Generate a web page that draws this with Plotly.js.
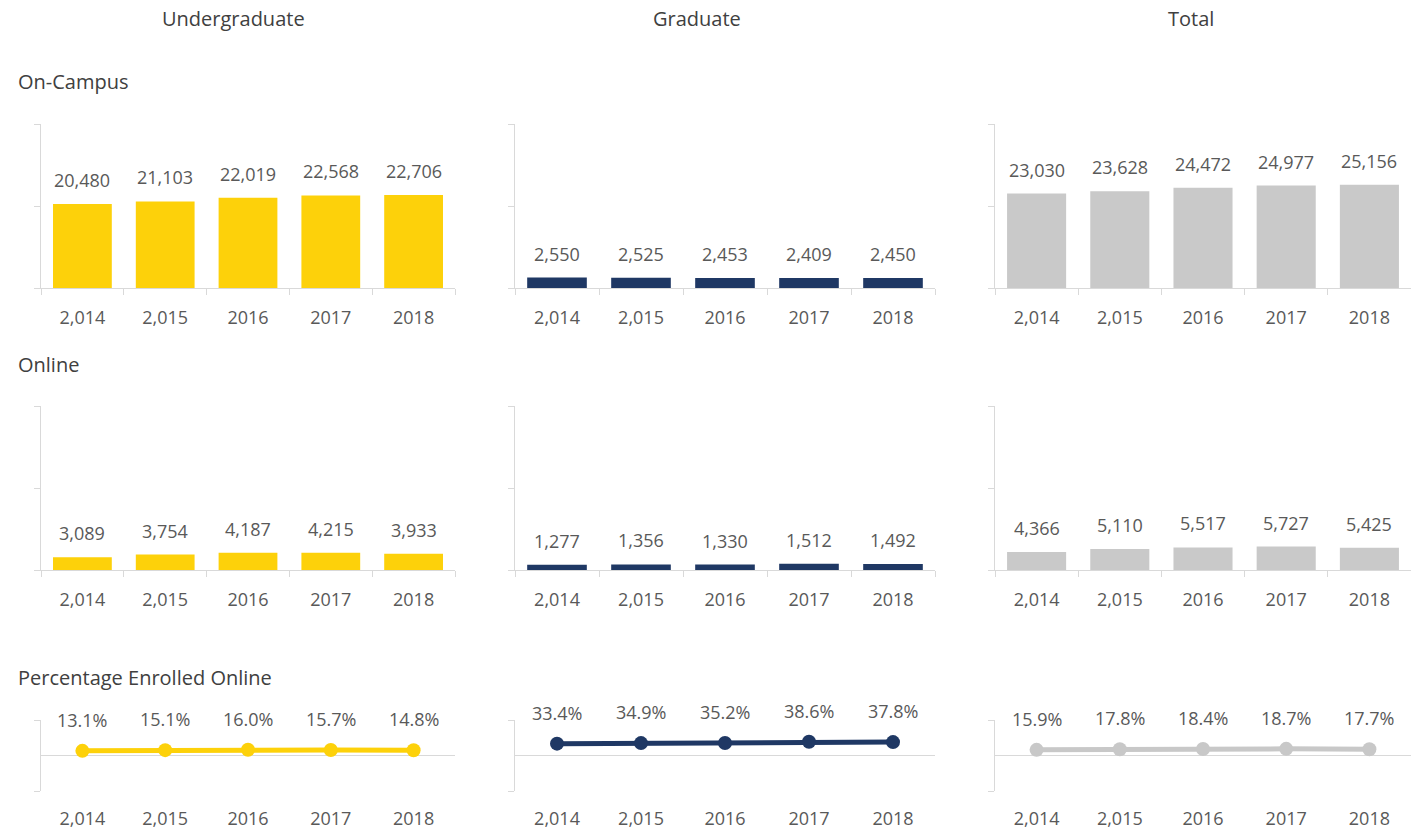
<!DOCTYPE html>
<html>
<head>
<meta charset="utf-8">
<script src="https://cdn.plot.ly/plotly-3.0.1.min.js"></script>
<style>html,body{margin:0;padding:0;background:#fff;}#chart{width:1411px;height:833px;}</style>
</head>
<body>
<div id="chart"></div>
<script>
// ---- data ----
const years = ["2,014", "2,015", "2016", "2017", "2018"];
const columnTitles = ["Undergraduate", "Graduate", "Total"];
const rowTitles = ["On-Campus", "Online", "Percentage Enrolled Online"];

const onCampusUndergrad = [20480, 21103, 22019, 22568, 22706];
const onCampusGraduate  = [2550, 2525, 2453, 2409, 2450];
const onCampusTotal     = [23030, 23628, 24472, 24977, 25156];

const onlineUndergrad = [3089, 3754, 4187, 4215, 3933];
const onlineGraduate  = [1277, 1356, 1330, 1512, 1492];
const onlineTotal     = [4366, 5110, 5517, 5727, 5425];

const pctUndergrad = [13.1, 15.1, 16.0, 15.7, 14.8];
const pctGraduate  = [33.4, 34.9, 35.2, 38.6, 37.8];
const pctTotal     = [15.9, 17.8, 18.4, 18.7, 17.7];

// ---- styling ----
const W = 1411, H = 833;
const colors = ["#FDD10A", "#1F3864", "#C9C9C9"];
const lineColors = ["#FDD10A", "#1F3864", "#C8C8C8"];
const axisGray = "#D9D9D9";
const textGray = "#595959";
const titleGray = "#404040";
const FONT = "Open Sans, sans-serif";

const colPx = [[41, 455], [515, 935], [995, 1411]];
const rowPx = [[124, 288], [406, 570], [720, 791]];
const px2x = p => p / W;
const px2y = p => 1 - p / H;

const barRows = [
  [onCampusUndergrad, onCampusGraduate, onCampusTotal],
  [onlineUndergrad, onlineGraduate, onlineTotal]
];
const pctRow = [pctUndergrad, pctGraduate, pctTotal];

const traces = [];
const layout = {
  width: W, height: H,
  margin: {l: 0, r: 0, t: 0, b: 0},
  paper_bgcolor: "#fff", plot_bgcolor: "#fff",
  showlegend: false,
  bargap: 0.29,
  font: {family: FONT, color: textGray, size: 18},
  annotations: []
};

let idx = 0;
for (let r = 0; r < 3; r++) {
  for (let c = 0; c < 3; c++) {
    idx++;
    const xa = idx === 1 ? "x" : "x" + idx;
    const ya = idx === 1 ? "y" : "y" + idx;
    const xKey = idx === 1 ? "xaxis" : "xaxis" + idx;
    const yKey = idx === 1 ? "yaxis" : "yaxis" + idx;
    const xDom = [px2x(colPx[c][0]), px2x(colPx[c][1])];
    const yDom = [px2y(rowPx[r][1]), px2y(rowPx[r][0])];

    if (r < 2) {
      const vals = barRows[r][c];
      traces.push({
        type: "bar", x: years, y: vals, xaxis: xa, yaxis: ya,
        marker: {color: colors[c]}, hoverinfo: "x+y"
      });
      layout[xKey] = {
        domain: xDom, anchor: ya, type: "category",
        categoryorder: "array", categoryarray: years,
        range: [-0.5, years.length - 0.5],
        showline: true, linecolor: axisGray, linewidth: 1,
        ticks: "outside", tickson: "boundaries", ticklen: 6, tickcolor: axisGray,
        showgrid: false, zeroline: false, fixedrange: true, tickangle: 0,
        tickfont: {family: FONT, size: 18, color: textGray},
        ticklabelstandoff: 13
      };
      layout[yKey] = {
        domain: yDom, anchor: xa, range: [0, 40000],
        tickvals: [0, 20000, 40000], showticklabels: false,
        ticks: "outside", ticklen: 6, tickcolor: axisGray,
        showline: true, linecolor: axisGray, linewidth: 1,
        showgrid: false, zeroline: false, fixedrange: true
      };
      vals.forEach((v, i) => {
        layout.annotations.push({
          xref: xa, yref: ya, x: i, y: v,
          text: v.toLocaleString("en-US"), showarrow: false,
          yanchor: "middle", yshift: 24,
          font: {family: FONT, size: 18, color: textGray}
        });
      });
    } else {
      const vals = pctRow[c];
      traces.push({
        type: "scatter", mode: "lines+markers", x: years, y: vals,
        xaxis: xa, yaxis: ya,
        line: {color: lineColors[c], width: 5},
        marker: {color: lineColors[c], size: 14},
        hoverinfo: "x+y"
      });
      layout[xKey] = {
        domain: xDom, anchor: ya, type: "category",
        categoryorder: "array", categoryarray: years,
        range: [-0.5, years.length - 0.5],
        showline: false, ticks: "", showgrid: false, zeroline: false,
        fixedrange: true, tickangle: 0,
        tickfont: {family: FONT, size: 18, color: textGray},
        ticklabelstandoff: 15
      };
      layout[yKey] = {
        domain: yDom, anchor: xa, range: [-100, 100],
        tickvals: [-100, 100], showticklabels: false,
        ticks: "outside", ticklen: 6, tickcolor: axisGray,
        showline: true, linecolor: axisGray, linewidth: 1,
        showgrid: false, zeroline: true, zerolinecolor: axisGray, zerolinewidth: 1,
        fixedrange: true
      };
      vals.forEach((v, i) => {
        layout.annotations.push({
          xref: xa, yref: ya, x: i, y: v,
          text: v.toFixed(1) + "%", showarrow: false,
          yanchor: "middle", yshift: 31,
          font: {family: FONT, size: 18, color: textGray}
        });
      });
    }
  }
}

// column titles
const colTitleX = [233, 697, 1191];
columnTitles.forEach((t, i) => {
  layout.annotations.push({
    xref: "paper", yref: "paper", x: px2x(colTitleX[i]), y: px2y(18),
    xanchor: "center", yanchor: "middle", text: t, showarrow: false,
    font: {family: FONT, size: 20, color: titleGray}
  });
});
// row titles
const rowTitleY = [81, 364, 677];
rowTitles.forEach((t, i) => {
  layout.annotations.push({
    xref: "paper", yref: "paper", x: px2x(16), y: px2y(rowTitleY[i]),
    xanchor: "left", yanchor: "middle", text: t, showarrow: false,
    font: {family: FONT, size: 20, color: titleGray}
  });
});

Plotly.newPlot("chart", traces, layout, {displayModeBar: false, staticPlot: true});
</script>
</body>
</html>
